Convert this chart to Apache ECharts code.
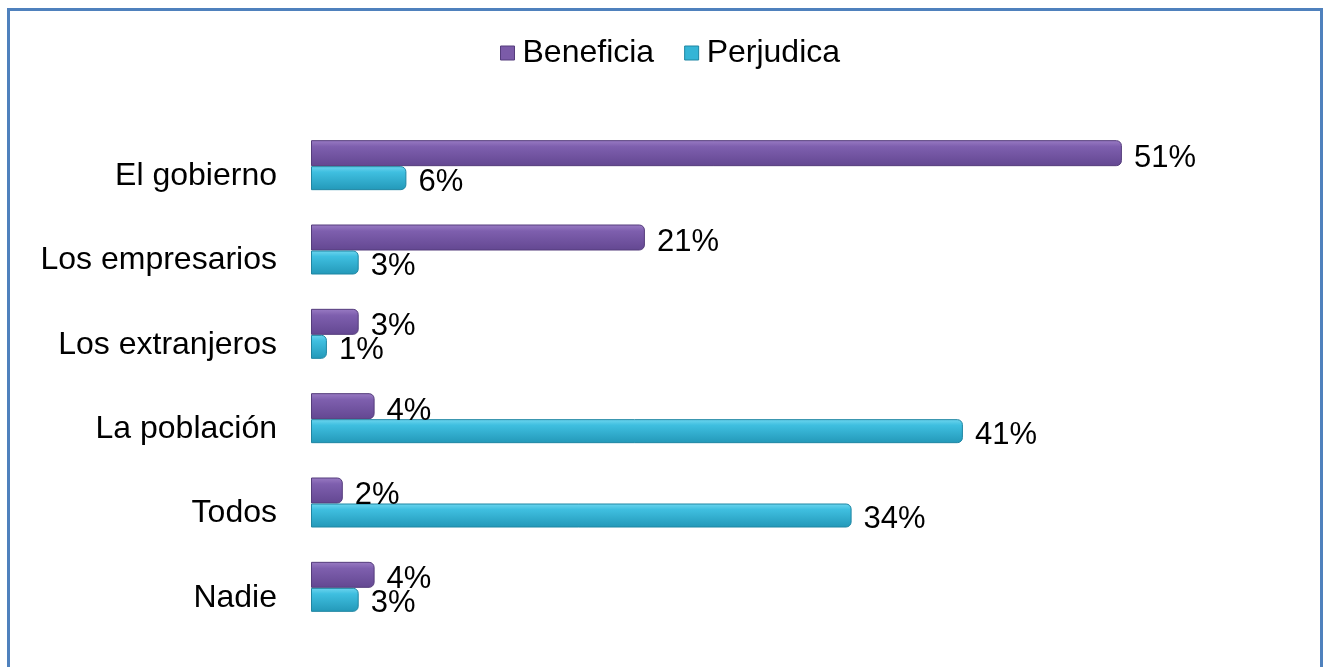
<!DOCTYPE html>
<html><head><meta charset="utf-8">
<script src="https://cdn.jsdelivr.net/npm/echarts@6/dist/echarts.min.js"></script>
<style>html,body{margin:0;padding:0;background:#fff}#c{width:1329px;height:667px}</style>
</head><body><div id="c"></div>
<script>
const categories = ['El gobierno','Los empresarios','Los extranjeros','La población','Todos','Nadie'];
const beneficia = [51,21,3,4,2,4];
const perjudica = [6,3,1,41,34,3];
const seriesNames = ['Beneficia','Perjudica'];

const FONT = 'Liberation Sans, Arial, sans-serif';
const chart = echarts.init(document.getElementById('c'));
function grad(top, mid, bot){
  return new echarts.graphic.LinearGradient(0,0,0,1,[
    {offset:0,color:top},{offset:0.25,color:mid},{offset:1,color:bot}]);
}
const purple = grad('#9a7cc4','#7e5fae','#634791');
const cyan = grad('#6fd6ef','#3fbfe0','#2398b8');
chart.setOption({
  animation:false,
  graphic:[{type:'rect',shape:{x:8.5,y:9.5,width:1313,height:720},style:{fill:'none',stroke:'#4f81bd',lineWidth:3}}],
  legend:{top:32,left:495,itemWidth:14,itemHeight:14,itemGap:30,icon:'rect',
    textStyle:{fontFamily:FONT,fontSize:32,color:'#000',padding:[0,0,0,3]},
    data:[{name:'Beneficia',itemStyle:{color:'#7b5ba8',borderColor:'#553d7c',borderWidth:1}},
          {name:'Perjudica',itemStyle:{color:'#35b5d6',borderColor:'#1f86a3',borderWidth:1}}]},
  grid:{left:311,top:123,width:954,height:506,containLabel:false},
  xAxis:{type:'value',min:0,max:60,show:false},
  yAxis:{type:'category',data:categories,inverse:true,
    axisLine:{show:false},axisTick:{show:false},
    axisLabel:{margin:34,fontFamily:FONT,fontSize:32,color:'#000',verticalAlign:'top',lineHeight:22}},
  series:[
    {name:seriesNames[0],type:'bar',data:beneficia,barWidth:26,barGap:'0%',
      itemStyle:{color:purple,borderColor:'#553d7c',borderWidth:1,borderRadius:[0,5,5,0]},
      label:{show:true,position:'right',distance:12,offset:[0,5],formatter:'{c}%',fontFamily:FONT,fontSize:31,color:'#000'}},
    {name:seriesNames[1],type:'bar',data:perjudica,barWidth:24,
      itemStyle:{color:cyan,borderColor:'#1f86a3',borderWidth:1,borderRadius:[0,5,5,0]},
      label:{show:true,position:'right',distance:12,offset:[0,4],formatter:'{c}%',fontFamily:FONT,fontSize:31,color:'#000'}}
  ]
});
</script></body></html>
